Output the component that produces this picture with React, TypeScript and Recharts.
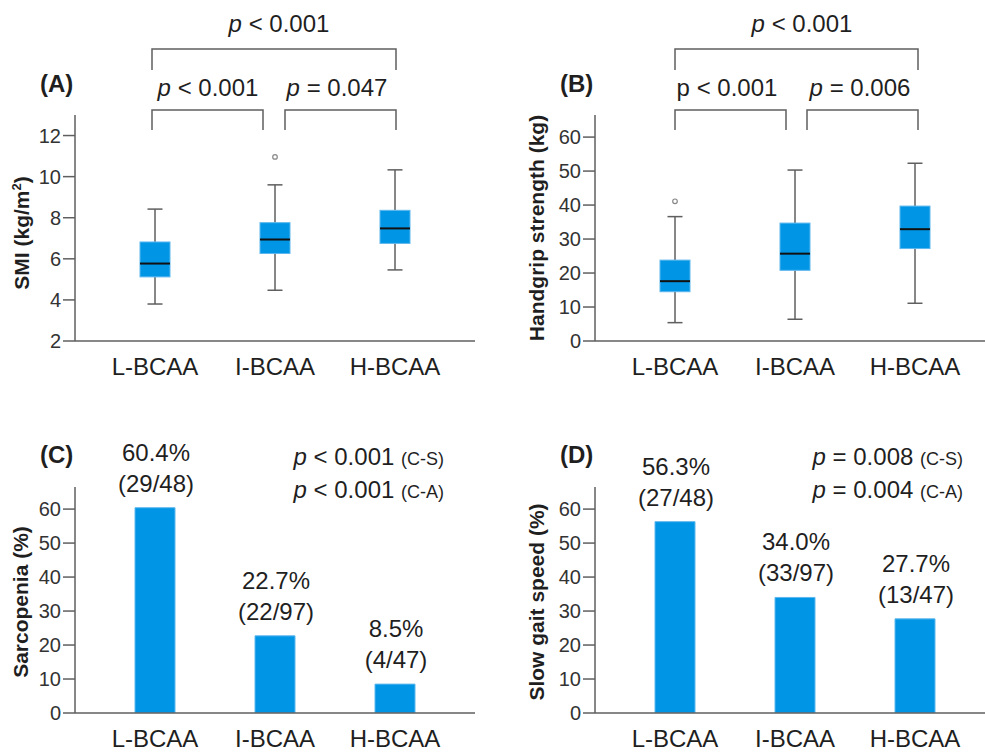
import React from 'react';
import { ComposedChart, Bar, XAxis, YAxis, LabelList } from 'recharts';

const groups = ['L-BCAA', 'I-BCAA', 'H-BCAA'];

// (A) SMI (kg/m2) box plot stats
const smiMin = [3.8, 4.47, 5.46];
const smiQ1 = [5.12, 6.26, 6.75];
const smiMed = [5.77, 6.94, 7.48];
const smiQ3 = [6.82, 7.76, 8.36];
const smiMax = [8.42, 9.6, 10.33];
const smiOut = [null, 10.96, null];

// (B) handgrip strength (kg)
const gripMin = [5.4, 6.4, 11.1];
const gripQ1 = [14.5, 20.8, 27.2];
const gripMed = [17.6, 25.7, 32.9];
const gripQ3 = [23.8, 34.7, 39.7];
const gripMax = [36.6, 50.3, 52.3];
const gripOut = [41.1, null, null];

// (C) sarcopenia, (D) slow gait speed
const sarcopenia = [60.4, 22.7, 8.5];
const sarcopeniaN = ['(29/48)', '(22/97)', '(4/47)'];
const slowGait = [56.3, 34.0, 27.7];
const slowGaitN = ['(27/48)', '(33/97)', '(13/47)'];

const smiTicks = [2, 4, 6, 8, 10, 12];
const pctTicks = [0, 10, 20, 30, 40, 50, 60];

const BLUE = '#0095E5';
const EDGE = '#5DB7EE';
const AXIS = '#5f5f5f';
const TEXT = '#1f1f1f';

const boxRows = (mn: number[], q1: number[], md: number[], q3: number[], mx: number[], out: (number | null)[]) =>
  groups.map((g, i) => ({ group: g, min: mn[i], q1: q1[i], med: md[i], q3: q3[i], max: mx[i], outlier: out[i] }));

const barRows = (vals: number[], counts: string[]) =>
  groups.map((g, i) => ({ group: g, pct: vals[i], n: counts[i] }));

const BoxShape = (props: any) => {
  const { x, y, width, height, payload } = props;
  if (!payload) return null;
  const top = Math.min(y, y + height);
  const h = Math.abs(height);
  const py = (v: number) => top + ((payload.max - v) / (payload.max - payload.min)) * h;
  const cx = x + width / 2;
  const cap = width / 2;
  return (
    <g>
      <line x1={cx} x2={cx} y1={py(payload.max)} y2={py(payload.q3)} stroke={AXIS} strokeWidth={1.5} />
      <line x1={cx} x2={cx} y1={py(payload.q1)} y2={py(payload.min)} stroke={AXIS} strokeWidth={1.5} />
      <line x1={cx - cap / 2} x2={cx + cap / 2} y1={py(payload.max)} y2={py(payload.max)} stroke={AXIS} strokeWidth={1.5} />
      <line x1={cx - cap / 2} x2={cx + cap / 2} y1={py(payload.min)} y2={py(payload.min)} stroke={AXIS} strokeWidth={1.5} />
      <rect x={x} y={py(payload.q3)} width={width} height={py(payload.q1) - py(payload.q3)} fill={BLUE} stroke={EDGE} strokeWidth={1} />
      <line x1={x} x2={x + width} y1={py(payload.med)} y2={py(payload.med)} stroke="#111" strokeWidth={2} />
      {payload.outlier != null && (
        <circle cx={cx} cy={py(payload.outlier)} r={2.3} fill="#fff" stroke="#888" strokeWidth={1.2} />
      )}
    </g>
  );
};

const makeBarLabel = (counts: string[]) => (props: any) => {
  const { x, y, width, value, index } = props;
  const cx = x + width / 2 + 1;
  return (
    <g>
      <text x={cx} y={y - 47} textAnchor="middle" fontSize={24} fill={TEXT}>{`${Number(value).toFixed(1)}%`}</text>
      <text x={cx} y={y - 16} textAnchor="middle" fontSize={24} fill={TEXT}>{counts[index]}</text>
    </g>
  );
};

const xAxisProps = {
  dataKey: 'group',
  height: 39,
  tickLine: false,
  tickSize: 6,
  tickMargin: 11,
  padding: { left: 20, right: 20 },
  axisLine: { stroke: AXIS, strokeWidth: 1.5 },
  tick: { fontSize: 24, fill: TEXT },
  interval: 0 as const,
};

const yAxisBase = {
  tickSize: 12,
  tickMargin: 2,
  axisLine: { stroke: AXIS, strokeWidth: 1.5 },
  tickLine: { stroke: AXIS, strokeWidth: 1.5 },
  tick: { fontSize: 20, fill: '#333' },
  allowDataOverflow: true,
  interval: 0 as const,
};

const P = () => <tspan fontStyle="italic">p</tspan>;

const Bracket = ({ x1, x2, y, drop }: { x1: number; x2: number; y: number; drop: number }) => (
  <path d={`M${x1},${y + drop} V${y} H${x2} V${y + drop}`} fill="none" stroke={AXIS} strokeWidth={1.5} />
);

const Overlay = () => (
  <svg width={985} height={752} style={{ position: 'absolute', left: 0, top: 0, pointerEvents: 'none' }}>
    <g fill={TEXT} fontSize={24}>
      {/* panel A */}
      <text x={279} y={32} textAnchor="middle"><P /> &lt; 0.001</text>
      <Bracket x1={152} x2={396} y={49} drop={21} />
      <text x={208} y={96} textAnchor="middle"><P /> &lt; 0.001</text>
      <text x={337} y={96} textAnchor="middle"><P /> = 0.047</text>
      <Bracket x1={152} x2={263} y={110} drop={20} />
      <Bracket x1={285} x2={396} y={110} drop={20} />
      <text x={40} y={92} fontWeight="bold">(A)</text>
      <text x={29} y={233} fontWeight="bold" fontSize={21} textAnchor="middle" transform="rotate(-90 29 233)">
        SMI (kg/m<tspan fontSize={13} dy={-8}>2</tspan><tspan dy={8}>)</tspan>
      </text>

      {/* panel B */}
      <text x={802} y={32} textAnchor="middle"><P /> &lt; 0.001</text>
      <Bracket x1={675} x2={918} y={49} drop={21} />
      <text x={727} y={96} textAnchor="middle">p &lt; 0.001</text>
      <text x={860} y={96} textAnchor="middle"><P /> = 0.006</text>
      <Bracket x1={675} x2={786} y={110} drop={20} />
      <Bracket x1={807} x2={918} y={110} drop={20} />
      <text x={560} y={92} fontWeight="bold">(B)</text>
      <text x={544} y={228} fontWeight="bold" fontSize={21} textAnchor="middle" transform="rotate(-90 544 228)">
        Handgrip strength (kg)
      </text>

      {/* panel C */}
      <text x={40} y={463} fontWeight="bold">(C)</text>
      <text x={444} y={465} textAnchor="end"><P /> &lt; 0.001 <tspan fontSize={18}>(C-S)</tspan></text>
      <text x={444} y={498} textAnchor="end"><P /> &lt; 0.001 <tspan fontSize={18}>(C-A)</tspan></text>
      <text x={28} y={602} fontWeight="bold" fontSize={21} textAnchor="middle" transform="rotate(-90 28 602)">
        Sarcopenia (%)
      </text>

      {/* panel D */}
      <text x={560} y={463} fontWeight="bold">(D)</text>
      <text x={963} y={465} textAnchor="end"><P /> = 0.008 <tspan fontSize={18}>(C-S)</tspan></text>
      <text x={963} y={498} textAnchor="end"><P /> = 0.004 <tspan fontSize={18}>(C-A)</tspan></text>
      <text x={544} y={602} fontWeight="bold" fontSize={21} textAnchor="middle" transform="rotate(-90 544 602)">
        Slow gait speed (%)
      </text>
    </g>
  </svg>
);

const BoxPanel = ({ rows, domain, ticks, yWidth, width }: any) => (
  <ComposedChart width={width} height={380} data={rows} margin={{ top: 115, right: 15, bottom: 0, left: 0 }}>
    <XAxis {...xAxisProps} />
    <YAxis {...yAxisBase} width={yWidth} domain={domain} ticks={ticks} />
    <Bar dataKey={(d: any) => [d.min, d.max]} barSize={30} shape={<BoxShape />} isAnimationActive={false} />
  </ComposedChart>
);

const BarPanel = ({ rows, counts, yWidth, width }: any) => (
  <ComposedChart width={width} height={372} data={rows} margin={{ top: 107, right: 15, bottom: 0, left: 0 }}>
    <XAxis {...xAxisProps} />
    <YAxis {...yAxisBase} width={yWidth} domain={[0, 66.5]} ticks={pctTicks} />
    <Bar dataKey="pct" barSize={40} fill={BLUE} stroke={EDGE} strokeWidth={1} isAnimationActive={false}>
      <LabelList dataKey="pct" content={makeBarLabel(counts)} />
    </Bar>
  </ComposedChart>
);

export default function App() {
  return (
    <div
      style={{
        position: 'fixed',
        left: 0,
        top: 0,
        width: 985,
        height: 752,
        overflow: 'hidden',
        background: '#fff',
        fontFamily: '"Liberation Sans", Arial, sans-serif',
      }}
    >
      <div style={{ position: 'absolute', left: 0, top: 0 }}>
        <BoxPanel rows={boxRows(smiMin, smiQ1, smiMed, smiQ3, smiMax, smiOut)} domain={[2, 13]} ticks={smiTicks} yWidth={75} width={490} />
      </div>
      <div style={{ position: 'absolute', left: 490, top: 0 }}>
        <BoxPanel rows={boxRows(gripMin, gripQ1, gripMed, gripQ3, gripMax, gripOut)} domain={[0, 66.5]} ticks={pctTicks} yWidth={105} width={520} />
      </div>
      <div style={{ position: 'absolute', left: 0, top: 380 }}>
        <BarPanel rows={barRows(sarcopenia, sarcopeniaN)} counts={sarcopeniaN} yWidth={75} width={490} />
      </div>
      <div style={{ position: 'absolute', left: 490, top: 380 }}>
        <BarPanel rows={barRows(slowGait, slowGaitN)} counts={slowGaitN} yWidth={105} width={520} />
      </div>
      <Overlay />
    </div>
  );
}
